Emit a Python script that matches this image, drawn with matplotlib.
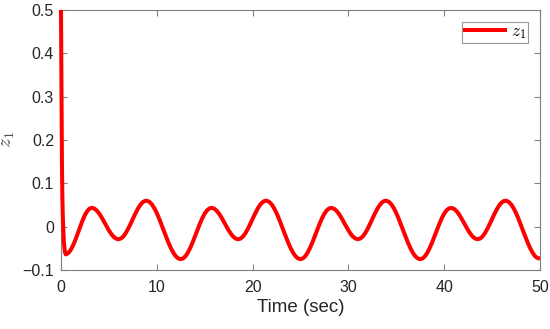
import numpy as np
import matplotlib
matplotlib.use("Agg")
import matplotlib.pyplot as plt

plt.rcParams['font.family'] = ['Liberation Sans', 'DejaVu Sans']
plt.rcParams['mathtext.fontset'] = 'cm'

# sample times (sec)
t_start = [0.0, 0.05, 0.1, 0.15, 0.2, 0.3, 0.4]
t_grid = list(np.arange(0.5, 50.001, 0.25))
time = np.array(t_start + t_grid)

z1_start = [0.5, 0.30, 0.14, 0.06, 0.015, -0.035, -0.058]
z1_first = [-0.064, -0.0612, -0.0543, -0.0438, -0.0305, -0.0155, -0.0002,
            0.0145, 0.0270, 0.0364, 0.0421]          # 0.5 .. 3.0
z1_c1 = [0.0434, 0.0415, 0.0368, 0.0299, 0.0211, 0.0113, 0.0012, -0.0085, -0.0169, -0.0235, -0.0276, -0.0290,
         -0.0274, -0.0227, -0.0151, -0.0053, 0.0060, 0.0179, 0.0297, 0.0404, 0.0494, 0.0559, 0.0594, 0.0597,
         0.0569, 0.0510, 0.0423, 0.0313, 0.0183, 0.0042, -0.0105, -0.0249, -0.0387, -0.0509, -0.0610, -0.0687, -0.0734, -0.0750,
         -0.0732, -0.0680, -0.0596, -0.0487, -0.0358, -0.0216, -0.0071, 0.0069, 0.0196, 0.0301, 0.0378, 0.0423]  # 3.25 .. 15.5
z1_c2 = [0.0434, 0.0415, 0.0368, 0.0299, 0.0211, 0.0113, 0.0012, -0.0085, -0.0169, -0.0235, -0.0276, -0.0290,
         -0.0274, -0.0227, -0.0151, -0.0053, 0.0060, 0.0179, 0.0297, 0.0404, 0.0494, 0.0559, 0.0594, 0.0597,
         0.0569, 0.0510, 0.0423, 0.0313, 0.0183, 0.0042, -0.0105, -0.0249, -0.0387, -0.0509, -0.0610, -0.0687, -0.0734, -0.0750,
         -0.0732, -0.0680, -0.0596, -0.0487, -0.0358, -0.0216, -0.0071, 0.0069, 0.0196, 0.0301, 0.0378, 0.0423]  # 15.75 .. 28.0
z1_c3 = [0.0432, 0.0414, 0.0368, 0.0299, 0.0211, 0.0113, 0.0012, -0.0085, -0.0169, -0.0235, -0.0276, -0.0288,
         -0.0274, -0.0227, -0.0151, -0.0053, 0.0060, 0.0179, 0.0297, 0.0404, 0.0494, 0.0559, 0.0594, 0.0597,
         0.0569, 0.0510, 0.0423, 0.0313, 0.0183, 0.0042, -0.0105, -0.0249, -0.0387, -0.0509, -0.0610, -0.0687, -0.0734, -0.0750,
         -0.0732, -0.0680, -0.0596, -0.0487, -0.0358, -0.0216, -0.0071, 0.0069, 0.0196, 0.0301, 0.0378, 0.0423]  # 28.25 .. 40.5
z1_c4 = [0.0432, 0.0414, 0.0368, 0.0299, 0.0211, 0.0113, 0.0012, -0.0085, -0.0169, -0.0235, -0.0276, -0.0288,
         -0.0274, -0.0227, -0.0151, -0.0053, 0.0060, 0.0179, 0.0297, 0.0404, 0.0494, 0.0559, 0.0594, 0.0597,
         0.0569, 0.0510, 0.0423, 0.0313, 0.0183, 0.0042, -0.0105, -0.0249, -0.0387, -0.0509, -0.0610, -0.0687, -0.0725, -0.0735]  # 40.75 .. 50.0
z1 = np.array(z1_start + z1_first + z1_c1 + z1_c2 + z1_c3 + z1_c4)

xticks = [0, 10, 20, 30, 40, 50]
yticks = [-0.1, 0, 0.1, 0.2, 0.3, 0.4, 0.5]
ytick_labels = ['\u22120.1', '0', '0.1', '0.2', '0.3', '0.4', '0.5']

fig = plt.figure(figsize=(5.5, 3.29), dpi=100)
ax = fig.add_axes([61/550, 1 - 270/329, (540-61)/550, (270-10)/329])
ax.plot(time, z1, color='#ff0000', lw=2.9, label='$z_1$', solid_joinstyle='round',
        solid_capstyle='butt', clip_on=False, zorder=3)
ax.set_xlim(0, 50)
ax.set_ylim(-0.1, 0.5)
ax.set_xticks(xticks)
ax.set_yticks(yticks)
ax.set_yticklabels(ytick_labels)
ax.tick_params(direction='in', top=True, right=True, length=4, width=0.8,
               color='#808080', labelcolor='#262626', labelsize=11.5)
ax.tick_params(axis='x', pad=7)
ax.tick_params(axis='y', pad=5)
for s in ax.spines.values():
    s.set_color('#808080')
    s.set_linewidth(0.8)
ax.set_xlabel('Time (sec)', fontsize=13.5, color='#262626', labelpad=3)
ax.set_ylabel('$z_1$', fontsize=14, color='#505050', labelpad=4)
leg = ax.legend(loc='upper right', bbox_to_anchor=(528/550, 1 - 22/329), bbox_transform=fig.transFigure,
                fontsize=12.5, frameon=True, fancybox=False, handlelength=2.5,
                borderpad=0.1, handletextpad=0.25, borderaxespad=0)
leg.get_frame().set_edgecolor('#808080')
leg.get_frame().set_linewidth(0.8)
fig.savefig('out.png', dpi=100)
